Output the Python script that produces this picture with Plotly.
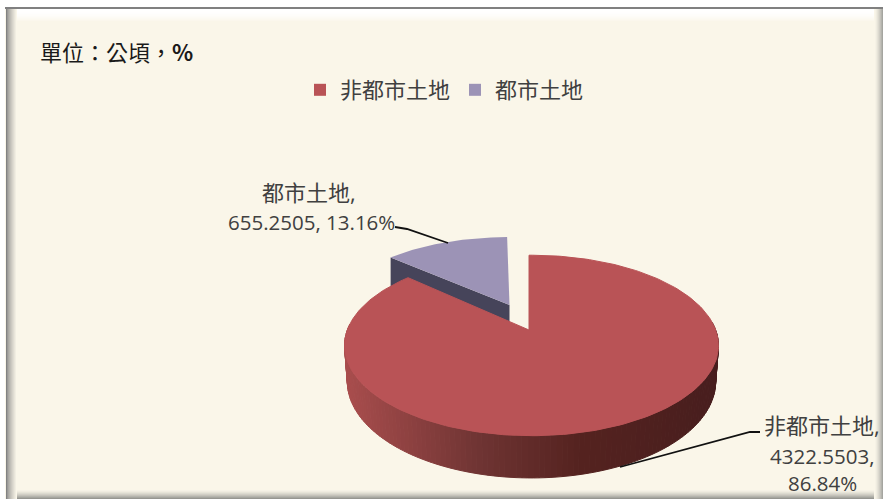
import numpy as np
import plotly.graph_objects as go

categories = ["非都市土地", "都市土地"]
values = [4322.5503, 655.2505]
percents = ["86.84%", "13.16%"]
title_text = "單位\uff1a公頃\uff0c<b>%</b>"

W, H = 883, 500
CJK = "Noto Sans CJK TC"
LATIN = "Open Sans"
BG = "#FAF6E9"
RED = "#B95356"
BLUE = "#9C93B6"
BLUE_WALL = "#46445A"
TEXT = "#404040"
P = 0.1713

fractions = np.array(values) / sum(values)
red_span = fractions[0] * 360.0
START = -0.9


def project(theta_deg, ax, ay, a, b, scale=1.0, depth=0.0):
    t = np.radians(theta_deg)
    u, v = np.sin(t), np.cos(t)
    den = 1 + P * v
    return ax + scale * a * u / den, ay - b * v / den + depth / den


RED_GEO = dict(ax=531.5, ay=330.0, a=184.2, b=87.6)
BLUE_GEO = dict(ax=509.5, ay=305.0, a=177.4, b=79.6)
RED_DEPTH = 35.0
BLUE_DEPTH = 30.0


def wall_colour(x):
    stops = [(344, (170, 78, 78)), (480, (111, 52, 51)), (580, (85, 35, 32)), (719, (72, 30, 30))]
    xs = [s[0] for s in stops]
    c = [int(np.interp(x, xs, [s[1][i] for s in stops])) for i in range(3)]
    return f"rgb({c[0]},{c[1]},{c[2]})"


fig = go.Figure()

# legend keys
for name, colour in zip(categories, [RED, BLUE]):
    fig.add_trace(go.Scatter(x=[None], y=[None], mode="markers", name=name,
                             marker=dict(symbol="square", size=12, color=colour)))

# blue slice: cut face, then top
blue_start = START + red_span
blue_end = START + 360.0
bx, by = project(np.linspace(blue_start, blue_end, 40), **BLUE_GEO)
lx, ly = bx[0], by[0]
fig.add_trace(go.Scatter(
    x=[lx, BLUE_GEO["ax"], BLUE_GEO["ax"], lx, lx],
    y=[ly, BLUE_GEO["ay"], BLUE_GEO["ay"] + BLUE_DEPTH, ly + BLUE_DEPTH, ly],
    mode="lines", fill="toself", fillcolor=BLUE_WALL, line=dict(width=0), showlegend=False, hoverinfo="skip"))
fig.add_trace(go.Scatter(
    x=np.r_[BLUE_GEO["ax"], bx, BLUE_GEO["ax"]], y=np.r_[BLUE_GEO["ay"], by, BLUE_GEO["ay"]],
    mode="lines", fill="toself", fillcolor=BLUE, line=dict(width=0), showlegend=False,
    name=categories[1], hoverinfo="name"))

# red slice: outer wall segments, then top
edges = np.arange(85.0, 275.0 + 1e-6, 1.5)
for t0, t1 in zip(edges[:-1], edges[1:]):
    ts = np.array([t0, t1])
    xt, yt = project(ts, **RED_GEO)
    xb, yb = project(ts, **RED_GEO, scale=0.985, depth=RED_DEPTH)
    col = wall_colour((xt.mean() + xb.mean()) / 2)
    fig.add_trace(go.Scatter(
        x=[xt[0], xt[1], xb[1], xb[0], xt[0]], y=[yt[0], yt[1], yb[1], yb[0], yt[0]],
        mode="lines", fill="toself", fillcolor=col, line=dict(width=1, color=col),
        showlegend=False, hoverinfo="skip"))
rx, ry = project(np.linspace(START, START + red_span, 240), **RED_GEO)
apex_x, apex_y = 529.0, RED_GEO["ay"]
fig.add_trace(go.Scatter(
    x=np.r_[apex_x, rx, apex_x], y=np.r_[apex_y, ry, apex_y],
    mode="lines", fill="toself", fillcolor=RED, line=dict(width=1, color=RED), showlegend=False,
    name=categories[0], hoverinfo="name"))

# leader lines
fig.add_trace(go.Scatter(x=[395, 407, 448], y=[227, 229, 243], mode="lines",
                         line=dict(color="#111111", width=1.8), showlegend=False, hoverinfo="skip"))
fig.add_trace(go.Scatter(x=[760, 750, 620], y=[432, 432, 467], mode="lines",
                         line=dict(color="#111111", width=1.8), showlegend=False, hoverinfo="skip"))


# bevelled frame
def band(x0, y0, x1, y1, colour):
    return dict(type="rect", xref="x", yref="y", x0=x0, y0=y0, x1=x1, y1=y1,
                fillcolor=colour, line=dict(width=0), layer="below")


def mix(c0, c1, f):
    c = [int(round(a + (b - a) * f)) for a, b in zip(c0, c1)]
    return f"rgb({c[0]},{c[1]},{c[2]})"


bg_rgb = (250, 246, 233)
shapes = [band(5, 7, W, 499, BG)]
for i in range(13):  # top band, white into the cream
    shapes.append(band(7, 9 + i, W - 7, 10 + i, mix((255, 255, 255), bg_rgb, (i / 12) ** 2)))
for i in range(10):  # bottom band, cream into grey
    shapes.append(band(7, 489 + i, W, 490 + i, mix(bg_rgb, (150, 150, 145), (i / 9) ** 1.5)))
for i in range(9):  # right band, cream into grey
    shapes.append(band(874 + i, 9, 875 + i, 499, mix(bg_rgb, (165, 165, 160), (i / 8) ** 1.5)))
for i in range(11):  # left band, grey into cream
    shapes.append(band(6 + i, 9, 7 + i, 499, mix((130, 130, 130), bg_rgb, (i / 10) ** 0.7)))
shapes.append(band(5, 7, W, 9, "#808080"))

annotations = [
    dict(x=38, y=51, text=title_text, showarrow=False, xanchor="left", yanchor="middle",
         font=dict(family=CJK, size=22, color="#1A1A1A")),
    dict(x=309, y=192, text=categories[1] + ",", showarrow=False, xanchor="center", yanchor="middle",
         font=dict(family=f"{LATIN}, {CJK}", size=22, color=TEXT)),
    dict(x=311, y=222, text=f"{values[1]}, {percents[1]}", showarrow=False, xanchor="center", yanchor="middle",
         font=dict(family=f"{LATIN}, {CJK}", size=20.5, color=TEXT)),
    dict(x=822, y=425, text=categories[0] + ",", showarrow=False, xanchor="center", yanchor="middle",
         font=dict(family=f"{LATIN}, {CJK}", size=22, color=TEXT)),
    dict(x=822, y=456, text=f"{values[0]},", showarrow=False, xanchor="center", yanchor="middle",
         font=dict(family=f"{LATIN}, {CJK}", size=20.5, color=TEXT)),
    dict(x=822, y=483, text=percents[0], showarrow=False, xanchor="center", yanchor="middle",
         font=dict(family=f"{LATIN}, {CJK}", size=20.5, color=TEXT)),
]

fig.update_layout(
    width=W, height=H, autosize=False,
    margin=dict(l=0, r=0, t=0, b=0),
    paper_bgcolor="#FFFFFF", plot_bgcolor="rgba(0,0,0,0)",
    xaxis=dict(range=[0, W], visible=False, fixedrange=True),
    yaxis=dict(range=[H, 0], visible=False, fixedrange=True),
    shapes=shapes, annotations=annotations,
    legend=dict(orientation="h", x=300 / W, y=1 - 69 / H, xanchor="left", yanchor="top",
                font=dict(family=CJK, size=22, color=TEXT), bgcolor="rgba(0,0,0,0)",
                itemwidth=30, tracegroupgap=0),
)

fig.write_html("out.html", config={"displayModeBar": False},
               post_script="document.body.style.margin='0';")
